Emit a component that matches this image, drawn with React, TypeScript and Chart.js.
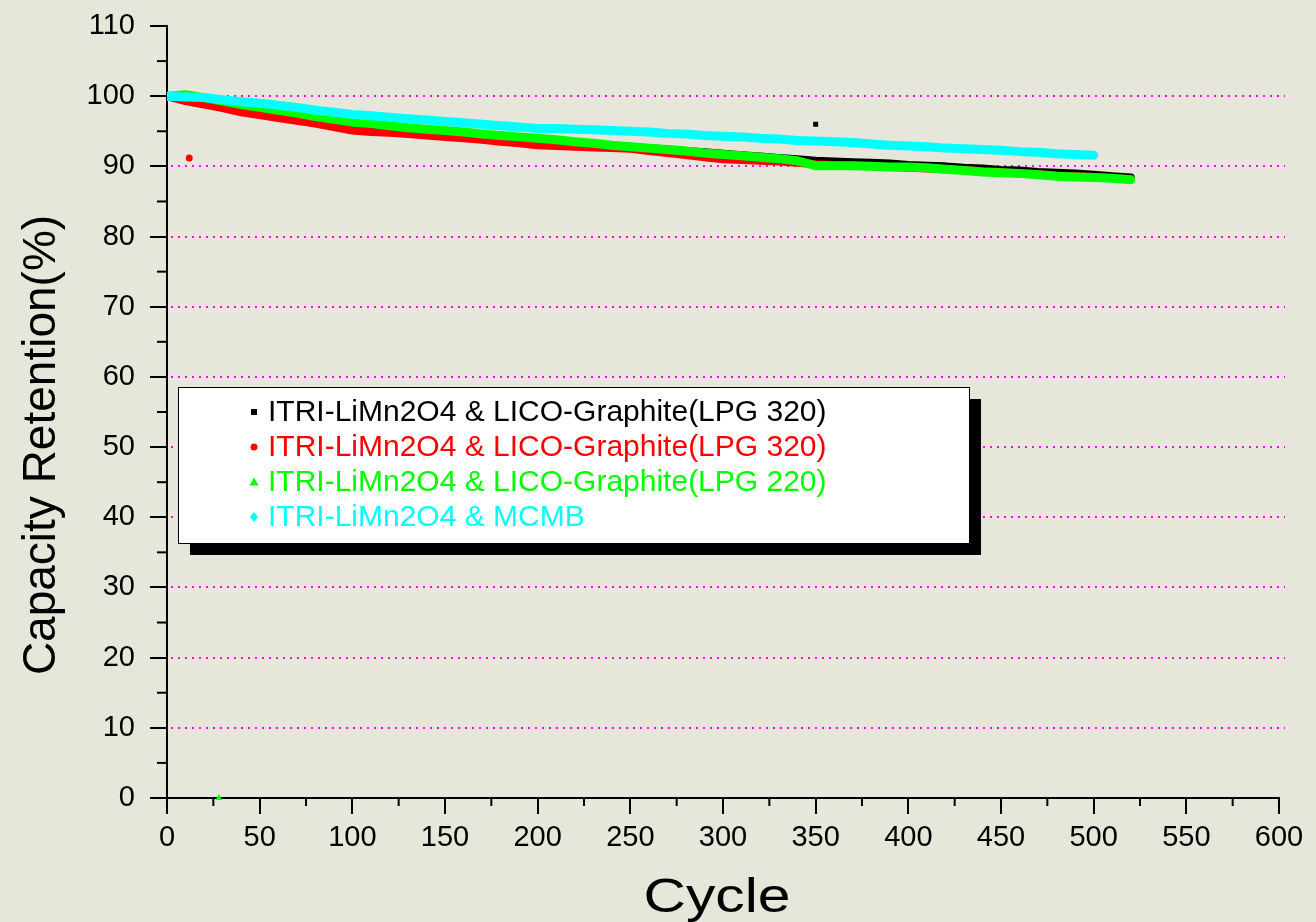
import React, { useEffect, useRef } from 'react';
import { Chart, registerables } from 'chart.js';

Chart.register(...registerables);

// ---- data ----
const cycles = [
  0, 10, 20, 30, 40, 50, 60, 70, 80, 90, 100, 110, 120, 130, 140, 150, 160, 170, 180, 190,
  200, 210, 220, 230, 240, 250, 260, 270, 280, 290, 300, 310, 320, 330, 340, 350, 360, 370,
  380, 390, 400, 410, 420, 430, 440, 450, 460, 470, 480, 490, 500, 510, 520,
];
const cyclesMCMB = [
  0, 10, 20, 30, 40, 50, 60, 70, 80, 90, 100, 110, 120, 130, 140, 150, 160, 170, 180, 190,
  200, 210, 220, 230, 240, 250, 260, 270, 280, 290, 300, 310, 320, 330, 340, 350, 360, 370,
  380, 390, 400, 410, 420, 430, 440, 450, 460, 470, 480, 490, 500,
];
const lpg320Black = [
  100.0, 99.4, 99.0, 98.6, 98.1, 97.7, 97.3, 96.9, 96.5, 96.0, 95.6, 95.4, 95.2, 95.0, 94.8,
  94.6, 94.4, 94.2, 94.0, 93.8, 93.6, 93.4, 93.3, 93.1, 92.9, 92.8, 92.6, 92.4, 92.2, 92.0,
  91.8, 91.6, 91.4, 91.2, 91.0, 90.8, 90.7, 90.6, 90.5, 90.4, 90.2, 90.1, 90.0, 89.8, 89.7,
  89.5, 89.4, 89.2, 89.1, 89.0, 88.8, 88.6, 88.4,
];
const lpg320Red = [
  100.0, 99.3, 98.8, 98.3, 97.7, 97.3, 96.9, 96.5, 96.1, 95.6, 95.1, 94.9, 94.8, 94.6, 94.4,
  94.2, 94.0, 93.8, 93.5, 93.3, 93.0, 92.9, 92.8, 92.7, 92.6, 92.5, 92.2, 91.9, 91.6, 91.3,
  91.0, 90.9, 90.8, 90.7, 90.5, 90.3, 90.2, 90.1, 90.0, 89.9, 89.8, 89.7, 89.6, 89.5, 89.3,
  89.2, 89.0, 88.9, 88.7, 88.6, 88.5, 88.3, 88.2,
];
const lpg220Green = [
  100.0, 100.2, 99.8, 99.3, 98.8, 98.4, 98.0, 97.6, 97.1, 96.7, 96.3, 96.1, 95.8, 95.5, 95.3,
  95.1, 94.9, 94.6, 94.4, 94.2, 94.0, 93.8, 93.5, 93.3, 93.0, 92.8, 92.6, 92.4, 92.2, 91.9,
  91.7, 91.5, 91.3, 91.1, 90.8, 90.1, 90.1, 90.1, 90.0, 89.9, 89.9, 89.8, 89.6, 89.4, 89.2,
  89.1, 89.0, 88.8, 88.6, 88.5, 88.4, 88.3, 88.1,
];
const mcmbCyan = [
  100.0, 99.9, 99.8, 99.5, 99.2, 99.0, 98.7, 98.4, 98.0, 97.7, 97.4, 97.2, 97.0, 96.8, 96.6,
  96.4, 96.2, 96.0, 95.8, 95.6, 95.4, 95.4, 95.3, 95.2, 95.1, 95.0, 94.9, 94.7, 94.6, 94.4,
  94.3, 94.2, 94.0, 93.9, 93.7, 93.6, 93.5, 93.4, 93.2, 93.0, 92.9, 92.8, 92.6, 92.5, 92.4,
  92.3, 92.1, 92.0, 91.8, 91.7, 91.6,
];
// isolated stray points
const blackOutlierCycles = [350];
const blackOutlierValues = [96.0];
const redOutlierCycles = [12];
const redOutlierValues = [91.2];
const greenOutlierCycles = [28];
const greenOutlierValues = [0];

const legendLabels = [
  'ITRI-LiMn2O4 & LICO-Graphite(LPG 320)',
  'ITRI-LiMn2O4 & LICO-Graphite(LPG 320)',
  'ITRI-LiMn2O4 & LICO-Graphite(LPG 220)',
  'ITRI-LiMn2O4 & MCMB',
];
const seriesColors = ['#000000', '#ff0000', '#00ff00', '#00ffff'];
const legendMarkers = ['rect', 'circle', 'triangle', 'diamond'];
const gridValues = [10, 20, 30, 40, 50, 60, 70, 80, 90, 100];
const yMinorTicks = [5, 15, 25, 35, 45, 55, 65, 75, 85, 95, 105];
const xMinorTicks = [25, 75, 125, 175, 225, 275, 325, 375, 425, 475, 525, 575];
const xTitle = 'Cycle';
const yTitle = 'Capacity Retention(%)';

const FONT = '"Liberation Sans", Arial, Helvetica, sans-serif';
const BG = '#e6e6da';

const zip = (xs: number[], ys: number[]) => xs.map((x, i) => ({ x, y: ys[i] }));

const decorPlugin = {
  id: 'decor',
  beforeDraw(chart: any) {
    const ctx = chart.ctx;
    ctx.save();
    ctx.fillStyle = BG;
    ctx.fillRect(0, 0, chart.width, chart.height);
    ctx.restore();
  },
  beforeDatasetsDraw(chart: any) {
    const ctx = chart.ctx;
    const { left, right } = chart.chartArea;
    const y = chart.scales.y;
    ctx.save();
    ctx.strokeStyle = '#ff00ff';
    ctx.lineWidth = 2;
    ctx.setLineDash([2, 5]);
    gridValues.forEach((v) => {
      const py = Math.round(y.getPixelForValue(v));
      ctx.beginPath();
      ctx.moveTo(left + 4, py);
      ctx.lineTo(right + 6, py);
      ctx.stroke();
    });
    ctx.restore();
  },
  afterDraw(chart: any) {
    const ctx = chart.ctx;
    const { left, bottom } = chart.chartArea;
    const xs = chart.scales.x;
    const ys = chart.scales.y;
    ctx.save();
    // minor ticks
    ctx.strokeStyle = '#000';
    ctx.lineWidth = 2;
    yMinorTicks.forEach((v) => {
      const py = ys.getPixelForValue(v);
      ctx.beginPath();
      ctx.moveTo(left - 10, py);
      ctx.lineTo(left, py);
      ctx.stroke();
    });
    xMinorTicks.forEach((v) => {
      const px = xs.getPixelForValue(v);
      ctx.beginPath();
      ctx.moveTo(px, bottom);
      ctx.lineTo(px, bottom + 8);
      ctx.stroke();
    });
    // axis titles
    ctx.fillStyle = '#000';
    ctx.textAlign = 'center';
    ctx.textBaseline = 'alphabetic';
    ctx.save();
    ctx.translate(717, 912);
    ctx.scale(1.2, 1);
    ctx.font = `49px ${FONT}`;
    ctx.fillText(xTitle, 0, 0);
    ctx.restore();
    ctx.save();
    ctx.font = `46px ${FONT}`;
    ctx.translate(55, 445);
    ctx.rotate(-Math.PI / 2);
    ctx.fillText(yTitle, 0, 0);
    ctx.restore();

    // legend box with shadow
    const bx = 178, by = 387, bw = 791, bh = 156;
    ctx.fillStyle = '#000';
    ctx.fillRect(bx + 12, by + 12, bw, bh);
    ctx.fillStyle = '#fff';
    ctx.fillRect(bx, by, bw, bh);
    ctx.strokeStyle = '#000';
    ctx.lineWidth = 1;
    ctx.strokeRect(bx + 0.5, by + 0.5, bw, bh);

    ctx.font = `30px ${FONT}`;
    ctx.textAlign = 'left';
    ctx.textBaseline = 'middle';
    legendLabels.forEach((label, i) => {
      const cy = 412 + i * 35;
      const mx = 254;
      ctx.fillStyle = seriesColors[i];
      const m = legendMarkers[i];
      ctx.beginPath();
      if (m === 'rect') {
        ctx.rect(mx - 3, cy - 3, 6, 6);
      } else if (m === 'circle') {
        ctx.arc(mx, cy, 3.5, 0, Math.PI * 2);
      } else if (m === 'triangle') {
        ctx.moveTo(mx, cy - 4.5);
        ctx.lineTo(mx + 4.5, cy + 3.5);
        ctx.lineTo(mx - 4.5, cy + 3.5);
        ctx.closePath();
      } else {
        ctx.moveTo(mx, cy - 5);
        ctx.lineTo(mx + 4, cy);
        ctx.lineTo(mx, cy + 5);
        ctx.lineTo(mx - 4, cy);
        ctx.closePath();
      }
      ctx.fill();
      ctx.fillText(label, 268, cy + 1);
    });
    ctx.restore();
  },
};

export default function App() {
  const canvasRef = useRef<HTMLCanvasElement | null>(null);

  useEffect(() => {
    document.body.style.background = BG;
    const canvas = canvasRef.current;
    if (!canvas) return;
    const lineDs = (label: string, xs: number[], ys: number[], color: string, width: number, order: number) => ({
      label,
      data: zip(xs, ys),
      borderColor: color,
      backgroundColor: color,
      borderWidth: width,
      pointRadius: 0,
      showLine: true,
      tension: 0,
      fill: false,
      order,
      borderCapStyle: 'round' as const,
      borderJoinStyle: 'round' as const,
    });
    const pointDs = (label: string, xs: number[], ys: number[], color: string, style: string, r: number) => ({
      label,
      data: zip(xs, ys),
      borderColor: color,
      backgroundColor: color,
      pointStyle: style,
      pointRadius: r,
      pointBorderWidth: 0,
      showLine: false,
      order: 0,
      clip: false,
    });

    const chart = new Chart(canvas, {
      type: 'line',
      data: {
        datasets: [
          lineDs(legendLabels[0], cycles, lpg320Black, seriesColors[0], 8, 4),
          lineDs(legendLabels[1], cycles, lpg320Red, seriesColors[1], 8, 3),
          lineDs(legendLabels[2], cycles, lpg220Green, seriesColors[2], 9, 2),
          lineDs(legendLabels[3], cyclesMCMB, mcmbCyan, seriesColors[3], 9, 1),
          pointDs('black stray', blackOutlierCycles, blackOutlierValues, seriesColors[0], 'rect', 3.5),
          pointDs('red stray', redOutlierCycles, redOutlierValues, seriesColors[1], 'circle', 3.5),
          pointDs('green stray', greenOutlierCycles, greenOutlierValues, seriesColors[2], 'triangle', 4),
        ] as any,
      },
      options: {
        responsive: false,
        animation: false,
        devicePixelRatio: 1,
        layout: { padding: { left: 0, top: 26, right: 37, bottom: 0 } },
        plugins: {
          legend: { display: false },
          tooltip: { enabled: false },
          title: { display: false },
        },
        scales: {
          x: {
            type: 'linear',
            min: 0,
            max: 600,
            ticks: {
              stepSize: 50,
              color: '#000',
              font: { family: FONT, size: 29 },
              padding: 7,
              maxRotation: 0,
              autoSkip: false,
            },
            grid: {
              display: true,
              drawOnChartArea: false,
              drawTicks: true,
              tickLength: 16,
              color: '#000',
              lineWidth: 2,
            },
            border: { display: true, color: '#000', width: 2 },
            afterFit: (scale: any) => {
              scale.height = 124;
              scale.paddingLeft = 0;
              scale.paddingRight = 0;
            },
          },
          y: {
            type: 'linear',
            min: 0,
            max: 110,
            ticks: {
              stepSize: 10,
              color: '#000',
              font: { family: FONT, size: 29 },
              padding: 15,
              autoSkip: false,
            },
            grid: {
              display: true,
              drawOnChartArea: false,
              drawTicks: true,
              tickLength: 17,
              color: '#000',
              lineWidth: 2,
            },
            border: { display: true, color: '#000', width: 2 },
            afterFit: (scale: any) => {
              scale.width = 167;
              scale.paddingTop = 0;
              scale.paddingBottom = 0;
            },
          },
        },
      } as any,
      plugins: [decorPlugin],
    });
    return () => chart.destroy();
  }, []);

  return (
    <div style={{ position: 'absolute', left: 0, top: 0, width: 1316, height: 922 }}>
      <canvas ref={canvasRef} width={1316} height={922} style={{ display: 'block' }} />
    </div>
  );
}
